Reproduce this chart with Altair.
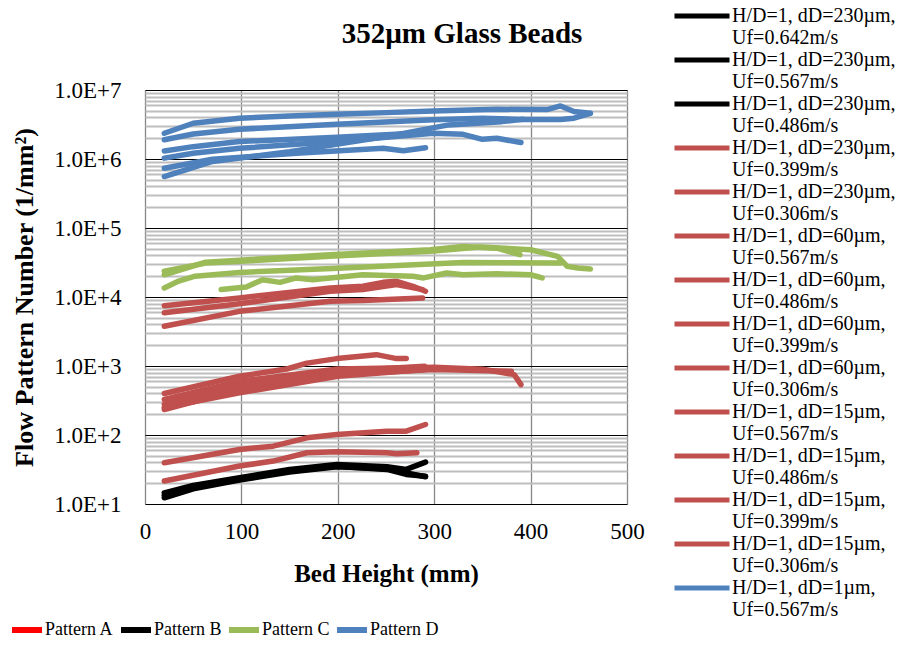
import altair as alt
import pandas as pd

# ---------------- data ----------------
BLACK = "#000000"
RED = "#C0504D"
GREEN = "#9BBB59"
BLUE = "#4F81BD"

# Pattern B (black)
K1_X = [20, 50, 98, 150, 199, 251, 271, 291]
K1_Y = [14.5, 18.6, 24.0, 31.7, 37.4, 34.6, 31.7, 40.5]
K2_X = [20, 50, 98, 150, 199, 251, 271, 291]
K2_Y = [13.3, 17.8, 22.7, 29.9, 35.3, 31.7, 26.8, 25.3]
K3_X = [20, 50, 98, 150, 199, 251, 271, 291]
K3_Y = [12.3, 16.6, 22.2, 29.0, 34.6, 32.4, 28.3, 24.8]

# red series
R9_X = [20, 98, 133, 168, 199, 251, 271, 291]
R9_Y = [39.6, 61.7, 68.9, 91, 101.6, 113.6, 113.6, 142]
R10_X = [20, 98, 133, 168, 199, 251, 261, 282]
R10_Y = [21.5, 35.5, 41.9, 55.3, 57.2, 55.3, 53.5, 55.3]
R4_X = [20, 98, 147, 168, 199, 240, 261, 271]
R4_Y = [400, 710, 905, 1100, 1280, 1460, 1280, 1280]
R5_X = [20, 98, 200, 300, 350, 383, 390]
R5_Y = [327, 600, 905, 960, 900, 750, 537]
R6_X = [20, 98, 200, 290]
R6_Y = [277, 509, 840, 991]
R7_X = [20, 98, 200, 300, 380]
R7_Y = [234, 456, 750, 887, 840]
R8_X = [20, 98, 200, 290]
R8_Y = [250, 408, 710, 887]
R1_X = [20, 98, 192, 226, 247, 261, 278, 291]
R1_Y = [7480, 9700, 13500, 14300, 16300, 16900, 14300, 12100]
R2_X = [20, 98, 192, 226, 261, 288]
R2_Y = [5900, 8000, 12100, 12800, 15100, 12800]
R3_X = [20, 98, 192, 226, 288]
R3_Y = [3770, 6200, 8700, 8900, 9700]

# Pattern C (green)
G1_X = [20, 63, 192, 296, 330, 365, 389]
G1_Y = [21000, 32000, 41000, 48400, 54000, 51000, 41000]
G2_X = [20, 63, 192, 296, 348, 400, 428, 438, 449, 462]
G2_Y = [23600, 31000, 38800, 46000, 53000, 48400, 38800, 27800, 26300, 25500]
G3_X = [20, 35, 52, 98, 200, 330, 431]
G3_Y = [13500, 17000, 20000, 22700, 26000, 31700, 31000]
G4_X = [79, 105, 122, 140, 157, 174, 226, 278, 289, 313, 330, 365, 400, 412]
G4_Y = [12800, 14000, 17800, 16300, 18900, 17800, 21000, 20000, 18900, 22300, 21000, 21700, 21000, 18900]

# Pattern D (blue)
D1_X = [20, 50, 98, 150, 199, 250, 299, 365, 417, 431, 445, 462]
D1_Y = [2.36e6, 3.3e6, 3.9e6, 4.2e6, 4.45e6, 4.7e6, 4.97e6, 5.25e6, 5.2e6, 5.87e6, 4.87e6, 4.6e6]
D2_X = [20, 50, 98, 199, 299, 350, 390, 431, 445, 462]
D2_Y = [1.9e6, 2.3e6, 2.7e6, 3.2e6, 3.7e6, 3.9e6, 3.75e6, 3.75e6, 3.9e6, 4.6e6]
D3_X = [20, 50, 98, 199, 280, 291]
D3_Y = [1.31e6, 1.51e6, 1.79e6, 2.07e6, 2.36e6, 2.5e6]
D4_X = [20, 50, 98, 199, 299, 330, 350, 365, 390]
D4_Y = [1.03e6, 1.21e6, 1.43e6, 1.79e6, 2.36e6, 2.28e6, 1.93e6, 2.0e6, 1.73e6]
D5_X = [20, 70, 157, 247, 268, 291]
D5_Y = [7.35e5, 9.9e5, 1.21e6, 1.43e6, 1.32e6, 1.46e6]
D6_X = [20, 70, 150, 250, 315, 370, 392]
D6_Y = [5.57e5, 9.2e5, 1.28e6, 2.11e6, 3.12e6, 3.48e6, 3.77e6]

SERIES = [
    ("H/D=1, dD=230µm, Uf=0.642m/s", BLACK, K1_X, K1_Y),
    ("H/D=1, dD=230µm, Uf=0.567m/s", BLACK, K2_X, K2_Y),
    ("H/D=1, dD=230µm, Uf=0.486m/s", BLACK, K3_X, K3_Y),
    ("H/D=1, dD=230µm, Uf=0.399m/s", RED, R9_X, R9_Y),
    ("H/D=1, dD=230µm, Uf=0.306m/s", RED, R10_X, R10_Y),
    ("H/D=1, dD=60µm, Uf=0.567m/s", RED, R4_X, R4_Y),
    ("H/D=1, dD=60µm, Uf=0.486m/s", RED, R5_X, R5_Y),
    ("H/D=1, dD=60µm, Uf=0.399m/s", RED, R6_X, R6_Y),
    ("H/D=1, dD=60µm, Uf=0.306m/s", RED, R7_X, R7_Y),
    ("H/D=1, dD=15µm, Uf=0.567m/s", RED, R8_X, R8_Y),
    ("H/D=1, dD=15µm, Uf=0.486m/s", RED, R1_X, R1_Y),
    ("H/D=1, dD=15µm, Uf=0.399m/s", RED, R2_X, R2_Y),
    ("H/D=1, dD=15µm, Uf=0.306m/s", RED, R3_X, R3_Y),
    ("H/D=1, dD=1µm, Uf=0.567m/s", BLUE, D1_X, D1_Y),
    ("H/D=1, dD=1µm, Uf=0.486m/s", BLUE, D2_X, D2_Y),
    ("H/D=1, dD=1µm, Uf=0.399m/s", BLUE, D3_X, D3_Y),
    ("H/D=1, dD=1µm, Uf=0.306m/s", BLUE, D4_X, D4_Y),
    ("H/D=2, dD=1µm, Uf=0.567m/s", BLUE, D5_X, D5_Y),
    ("H/D=2, dD=1µm, Uf=0.486m/s", BLUE, D6_X, D6_Y),
    ("H/D=1, dD=5µm, Uf=0.567m/s", GREEN, G1_X, G1_Y),
    ("H/D=1, dD=5µm, Uf=0.486m/s", GREEN, G2_X, G2_Y),
    ("H/D=1, dD=5µm, Uf=0.399m/s", GREEN, G3_X, G3_Y),
    ("H/D=1, dD=5µm, Uf=0.306m/s", GREEN, G4_X, G4_Y),
]
LEGEND_COUNT = 14

PATTERNS = ["Pattern A", "Pattern B", "Pattern C", "Pattern D"]
PATTERN_COLORS = ["#FF0000", BLACK, GREEN, BLUE]

X_TICKS = [0, 100, 200, 300, 400, 500]
Y_GRID = [k * 10 ** d for d in range(1, 7) for k in range(1, 10)] + [10 ** 7]

# ---------------- build table ----------------
rows = []
for name, col, xs, ys in SERIES:
    for i, (x, y) in enumerate(zip(xs, ys)):
        rows.append({"series": name, "x": x, "y": y, "idx": i})
df = pd.DataFrame(rows)

names = [s[0] for s in SERIES]
colors = [s[1] for s in SERIES]

FONT = "Liberation Serif"
is_decade = "abs(log(datum.value)/LN10 - round(log(datum.value)/LN10)) < 0.01"

x_enc = alt.X(
    "x:Q",
    scale=alt.Scale(domain=[0, 500], nice=False),
    axis=alt.Axis(
        values=X_TICKS, title="Bed Height (mm)", grid=True,
        gridColor="#878787", gridWidth=1.3, ticks=False, domain=False,
        labelFont=FONT, labelFontSize=23, labelColor="black", labelPadding=16,
        titleFont=FONT, titleFontSize=25, titleFontWeight="bold",
        titleColor="black", titlePadding=18, labelFlush=False,
    ),
)
y_enc = alt.Y(
    "y:Q",
    scale=alt.Scale(type="log", domain=[10, 1e7], nice=False),
    axis=alt.Axis(
        values=Y_GRID,
        labelExpr=f"{is_decade} ? '1.0E+' + round(log(datum.value)/LN10) : ''",
        labelOverlap=False, labelFlush=False,
        title="Flow Pattern Number (1/mm²)", grid=True,
        gridColor={"condition": {"test": is_decade, "value": "#000000"}, "value": "#BEBEBE"},
        gridWidth={"condition": {"test": is_decade, "value": 1.2}, "value": 1.8},
        ticks=False, domain=False,
        labelFont=FONT, labelFontSize=23, labelColor="black", labelPadding=24,
        titleFont=FONT, titleFontSize=26, titleFontWeight="bold",
        titleColor="black", titlePadding=16,
    ),
)

lines = alt.Chart(df).mark_line(strokeWidth=5.5, strokeCap="round", strokeJoin="round").encode(
    x=x_enc,
    y=y_enc,
    order=alt.Order("idx:Q"),
    color=alt.Color(
        "series:N",
        scale=alt.Scale(domain=names, range=colors),
        legend=alt.Legend(
            values=names[:LEGEND_COUNT], title=None, orient="none",
            legendX=547, legendY=-84, padding=0,
            symbolType="M-3.93,0L3.93,0", symbolSize=196, symbolStrokeWidth=5,
            labelFont=FONT, labelFontSize=20, labelColor="black", labelLimit=400,
            labelOffset=20, rowPadding=2,
            labelExpr="[substring(datum.label, 0, indexof(datum.label, 'Uf') - 1), substring(datum.label, indexof(datum.label, 'Uf'))]",
        ),
    ),
)

pat_df = pd.DataFrame({"pattern": PATTERNS, "x": [0] * 4, "y": [10] * 4})
patterns = alt.Chart(pat_df).mark_line(strokeWidth=0.01, strokeCap="butt").encode(
    x="x:Q",
    y="y:Q",
    stroke=alt.Stroke(
        "pattern:N",
        scale=alt.Scale(domain=PATTERNS, range=PATTERN_COLORS),
        legend=alt.Legend(
            title=None, orient="none", direction="horizontal",
            legendX=-127, legendY=531, padding=0,
            symbolType="M-2.5,0L2.5,0", symbolSize=144, symbolStrokeWidth=6,
            labelFont=FONT, labelFontSize=18, labelColor="black",
            columnPadding=-5, labelOffset=9,
        ),
    ),
)

chart = alt.layer(lines, patterns).resolve_scale(color="independent").properties(
    width=482,
    height=414,
    autosize=alt.AutoSizeParams(type="none"),
    padding={"left": 137, "top": 82, "right": 274, "bottom": 138},
    title=alt.TitleParams(
        "352µm Glass Beads", font=FONT, fontSize=29, fontWeight="bold",
        color="black", anchor="middle", frame="group", dx=76, dy=72, offset=0,
        baseline="bottom",
    ),
).configure_view(stroke="black", strokeWidth=1.8).configure(background="white")

chart.save("out.html", embed_options={"renderer": "svg", "actions": False})
